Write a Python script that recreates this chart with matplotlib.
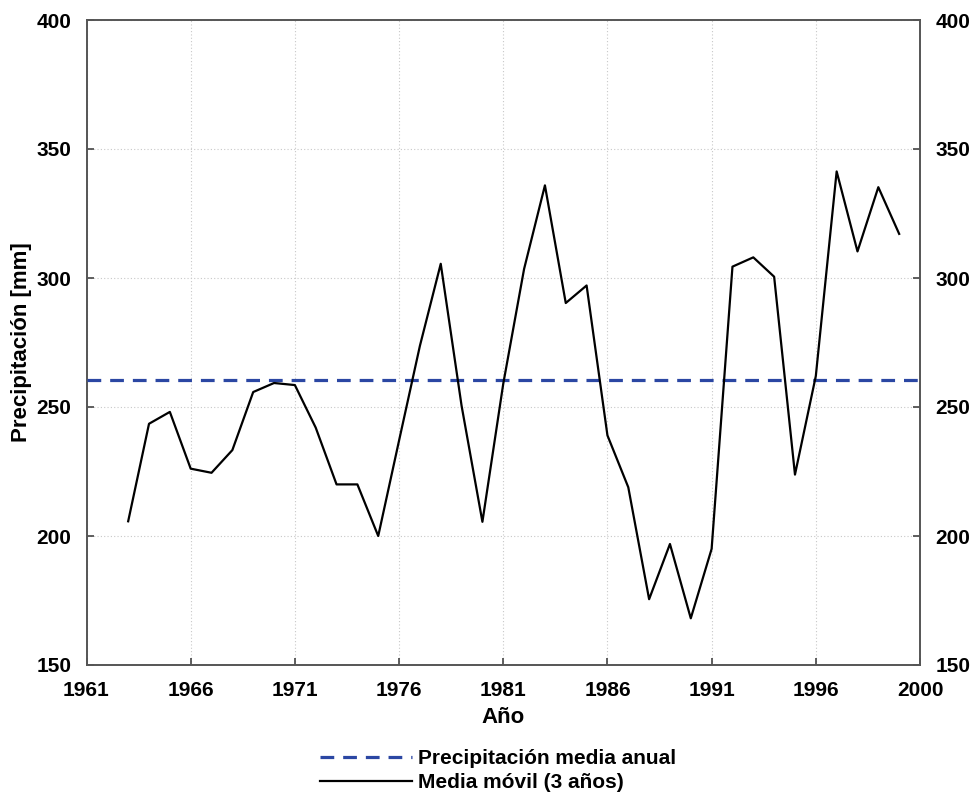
import matplotlib
matplotlib.use("Agg")
import matplotlib.pyplot as plt
import numpy as np

years = list(range(1963, 2001))
moving_avg = [205.7, 243.5, 248.1, 226.1, 224.5, 233.3, 255.8, 259.3, 258.5, 242.0,
              220.0, 220.0, 200.0, 237.0, 273.7, 305.5, 250.5, 205.5, 259.0, 303.5,
              335.9, 290.3, 297.1, 239.0, 218.9, 175.5, 196.9, 168.1, 195.0, 304.4,
              308.0, 300.5, 223.8, 262.0, 341.3, 310.3, 335.2, 317.1]
mean_annual = 260.6
xtick_pos = [1961, 1966, 1971, 1976, 1981, 1986, 1991, 1996, 2001]
xtick_labels = ['1961', '1966', '1971', '1976', '1981', '1986', '1991', '1996', '2000']
yticks = [150, 200, 250, 300, 350, 400]

plt.rcParams['font.family'] = ['Liberation Sans', 'DejaVu Sans']
plt.rcParams['font.weight'] = 'bold'

fig = plt.figure(figsize=(9.74, 7.96), dpi=100)
ax = fig.add_axes([86.5/974, 1-665/796, (920-86.5)/974, (665-20)/796])

ax.axhline(mean_annual, color='#2b47a3', lw=2.3, linestyle=(0, (4.3, 2.8)),
           label='Precipitación media anual', zorder=3)
ax.plot(years, moving_avg, color='black', lw=1.6, label='Media móvil (3 años)', zorder=4)

ax.set_xlim(1961, 2001)
ax.set_ylim(150, 400)
ax.set_xticks(xtick_pos)
ax.set_xticklabels(xtick_labels)
ax.set_yticks(yticks)
ax.grid(True, color='#c8c8c8', linestyle=(0, (1, 2)), lw=0.8)
ax.tick_params(axis='both', direction='in', labelsize=15, length=5, width=1.2,
               color='#444444')
ax.tick_params(axis='x', pad=11.5)
ax.tick_params(axis='y', right=True, labelright=True, pad=11)
for t in ax.yaxis.get_major_ticks():
    t.label1.set_fontweight('bold')
    t.label2.set_fontweight('bold')
for lab in ax.get_xticklabels():
    lab.set_fontweight('bold')
for s in ax.spines.values():
    s.set_color('#555555')
    s.set_linewidth(1.4)

ax.set_xlabel('Año', fontsize=16, fontweight='bold')
ax.set_ylabel('Precipitación [mm]', fontsize=16, fontweight='bold')
ax.xaxis.set_label_coords(0.5, (665-707)/645)
ax.yaxis.set_label_coords((11-86.5)/833.5, 0.5)
ax.yaxis.label.set_ha('center')
ax.yaxis.label.set_va('top')
ax.xaxis.label.set_va('top')

leg = fig.legend(loc='upper left', bbox_to_anchor=(320/974, 1-749/796), frameon=False,
                 handlelength=4.4, handletextpad=0.3, labelspacing=0.24,
                 borderaxespad=0, borderpad=0,
                 prop={'weight': 'bold', 'size': 15})

fig.savefig('out.png', dpi=100)
